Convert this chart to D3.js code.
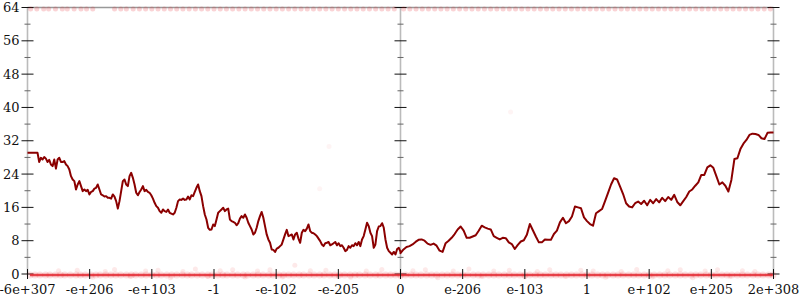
<!DOCTYPE html>
<html>
<head>
<meta charset="utf-8">
<script src="https://cdn.jsdelivr.net/npm/d3@7"></script>
<style>
  body { margin: 0; background: #fff; }
  text { font-family: "DejaVu Serif", serif; }
</style>
</head>
<body>
<svg id="chart" width="800" height="300"></svg>
<script>
// x positions are in "float order" units: -6 .. 0 .. 6, one unit per tick
var xTickPos = [-6, -5, -4, -3, -2, -1, 0, 1, 2, 3, 4, 5, 6];
var xTickLabels = ['-6e+307', '-e+206', '-e+103', '-1', '-e-102', '-e-205', '0',
                   'e-206', 'e-103', '1', 'e+102', 'e+205', '2e+308'];
var yMajor = [0, 8, 16, 24, 32, 40, 48, 56, 64];
var yMinor = [4, 12, 20, 28, 36, 44, 52, 60];

// random walk, negative half (evenly spaced from -6 to 0)
var leftWalk = [
  29.1, 29.1, 29.1, 29.1, 29.1, 29.1, 29.1, 26.9, 27.9, 27.5, 28.1, 27.7, 26.9, 27.4, 26.3, 25.9,
  27.5, 25.3, 27.5, 27.9, 26.9, 26.9, 27.1, 26.3, 25.9, 25.1, 23.5, 22.7, 22.3, 20.3, 21.5, 22.3,
  21.1, 19.9, 20.3, 19.9, 20.2, 19.1, 19.7, 19.9, 20.5, 20.7, 21.5, 20.3, 19.1, 18.9, 18.6, 18.7,
  18.3, 18.3, 18.1, 19.1, 18.6, 17.5, 15.7, 17.5, 19.9, 22.3, 22.7, 21.5, 21.1, 23.5, 24.3, 23.1,
  21.5, 19.5, 18.9, 19.7, 20.3, 21.1, 19.9, 20.2, 19.7, 19.5, 18.9, 18.1, 17.1, 16.3, 15.9, 15.1,
  14.7, 15.5, 15.1, 14.9, 15.5, 14.7, 14.5, 14.3, 14.7, 15.9, 17.5, 17.9, 17.8, 18.1, 17.8, 17.9,
  18.6, 17.9, 18.9, 18.7, 19.7, 20.7, 21.5, 19.9, 18.7, 16.3, 14.3, 13.1, 11.1, 10.6, 10.7, 11.9,
  11.5, 13.1, 14.7, 15.1, 15.5, 15.9, 15.1, 15.5, 15.7, 13.1, 12.7, 12.5, 12.3, 11.7, 12.2, 13.3,
  13.9, 13.5, 14.3, 13.5, 12.3, 11.5, 10.7, 9.5, 9.9, 11.1, 12.7, 13.9, 14.9, 13.5, 11.5, 9.5,
  8.3, 7.5, 5.9, 5.8, 5.3, 6.1, 6.3, 6.7, 7.1, 8.3, 9.5, 10.6, 9.1, 9.3, 9.5, 8.3,
  9.5, 9.9, 8.5, 7.5, 9.9, 10.6, 10.3, 10.9, 11.9, 10.3, 9.9, 9.8, 9.5, 9.1, 8.5, 7.9,
  7.1, 6.7, 7.4, 7.5, 7.7, 6.9, 7.1, 7.4, 7.7, 6.9, 7.4, 6.7, 6.9, 6.3, 5.5, 5.8,
  6.7, 6.3, 6.9, 6.7, 7.4, 6.9, 7.7, 6.7, 8.3, 9.1, 10.7, 12.3, 11.5, 9.9, 9.1, 6.3,
  7.1, 10.3, 11.4, 11.5, 12.2, 11.1, 8.3, 6.3, 5.5, 5.1, 4.7, 5.3, 4.7, 6.0, 6.3, 5.3
];

// random walk, positive half (evenly spaced from 0 to 6)
var rightWalk = [
  5.0, 5.9, 6.5, 6.7, 7.1, 7.7, 8.2, 8.3, 8.0, 7.3, 7.0, 7.3, 6.8, 5.6, 5.3, 7.4,
  8.0, 8.7, 9.6, 10.7, 11.4, 10.4, 8.7, 8.7, 9.0, 9.3, 10.4, 11.6, 11.2, 10.9, 10.7, 9.1,
  8.7, 8.3, 8.7, 8.6, 7.6, 7.2, 6.0, 7.0, 7.8, 8.1, 9.4, 12.0, 10.5, 9.0, 7.6, 7.6,
  8.3, 8.2, 8.2, 9.6, 10.4, 12.4, 13.5, 12.2, 12.7, 13.8, 16.2, 16.0, 15.8, 13.6, 12.7, 12.0,
  11.6, 14.6, 15.1, 15.6, 17.5, 19.5, 21.5, 23.0, 22.7, 21.0, 19.2, 17.0, 16.2, 16.0, 17.0, 17.4,
  16.8, 17.6, 16.5, 17.8, 17.0, 18.0, 17.2, 18.3, 17.5, 18.5, 17.8, 19.0, 17.3, 16.5, 17.5, 18.5,
  19.8, 20.3, 21.2, 22.0, 23.8, 23.8, 25.6, 26.1, 25.5, 23.5, 21.5, 22.0, 21.2, 19.8, 22.6, 27.6,
  27.8, 30.0, 31.3, 32.2, 33.4, 33.7, 33.6, 33.4, 32.6, 32.4, 33.9, 34.0, 34.0
];

// points pinned to the bottom (value 0) and top (value 64) of the chart
var bottomDots = [
  -5.96, -5.88, -5.8, -5.71, -5.64, -5.55, -5.47, -5.4, -5.31, -5.22, -5.15, -5.07, -4.98, -4.9,
  -4.83, -4.74, -4.66, -4.58, -4.5, -4.41, -4.33, -4.26, -4.17, -4.09, -4.0, -3.92, -3.85, -3.76,
  -3.68, -3.6, -3.51, -3.43, -3.36, -3.27, -3.19, -3.1, -3.03, -2.94, -2.86, -2.79, -2.7, -2.62,
  -2.53, -2.46, -2.37, -2.29, -2.21, -2.12, -2.05, -1.96, -1.88, -1.8, -1.72, -1.63, -1.56, -1.47,
  -1.39, -1.3, -1.23, -1.14, -1.06, -0.98, -0.9, -0.81, -0.73, -0.66, -0.57, -0.49, -0.4, -0.33,
  -0.24, -0.16, -0.08, 0.0, 0.08, 0.17, 0.25, 0.33, 0.42, 0.5, 0.58, 0.67, 0.75, 0.83, 0.92,
  1.0, 1.08, 1.17, 1.25, 1.33, 1.42, 1.5, 1.58, 1.67, 1.75, 1.83, 1.92, 2.0, 2.08, 2.17, 2.25,
  2.33, 2.42, 2.5, 2.58, 2.67, 2.75, 2.83, 2.92, 3.0, 3.08, 3.17, 3.25, 3.33, 3.42, 3.5, 3.58,
  3.67, 3.75, 3.83, 3.92, 4.0, 4.08, 4.17, 4.25, 4.33, 4.42, 4.5, 4.58, 4.67, 4.75, 4.83, 4.92,
  5.0, 5.08, 5.17, 5.25, 5.33, 5.42, 5.5, 5.58, 5.67, 5.75, 5.83, 5.92, 5.99
];
var bottomSpread = [
  [-5.5, 0.8], [-5.2, 0.9], [-4.95, -0.8], [-4.75, 0.6], [-4.6, 1.1], [-4.35, -0.6], [-4.1, 0.7],
  [-3.9, 0.9], [-3.7, -0.9], [-3.5, 0.6], [-3.3, 1.2], [-3.1, -0.6], [-2.9, 0.8], [-2.7, 1.0],
  [-2.5, -0.7], [-2.3, 0.7], [-2.1, 1.0], [-1.9, -0.7], [-1.7, 2.1], [-1.45, 0.8], [-1.2, 0.9],
  [-1.0, -0.6], [-0.8, -0.8], [-0.55, 0.7], [-0.3, 1.1], [0.0, -0.7], [0.2, 0.8], [0.4, 1.0],
  [0.6, -0.9], [0.85, 0.7], [1.1, 1.2], [1.3, -0.6], [1.5, 0.7], [1.75, 0.9], [2.0, -0.7],
  [2.2, 0.6], [2.4, 1.0], [2.65, -0.6], [2.9, 0.9], [3.1, 0.7], [3.3, -0.8], [3.55, 0.6],
  [3.8, 1.1], [4.05, -0.7], [4.3, 0.8], [4.5, 1.0], [4.7, -0.9], [4.9, 0.7], [5.1, 1.0],
  [5.3, -0.6], [5.5, 0.8], [5.7, 0.6]
];
var topDots = [
  -5.95, -5.85, -5.74, -5.66, -5.55, -5.44, -5.36, -5.25, -5.14, -5.05, -4.95, -4.6, -4.5, -4.41,
  -4.3, -4.2, -4.1, -4.0, -3.9, -3.8, -3.7, -3.6, -3.5, -3.4, -3.3, -3.2, -3.1, -3.0, -2.9,
  -2.8, -2.7, -2.6, -2.5, -2.4, -2.3, -2.2, -2.1, -2.0, -1.9, -1.8, -1.7, -1.6, -1.5, -1.4,
  -1.3, -1.2, -1.1, -1.0, -0.9, -0.8, -0.7, -0.6, -0.5, -0.4, -0.3, -0.2, -0.1, 0.05, 0.15,
  0.25, 0.35, 0.45, 0.55, 0.65, 0.75, 0.85, 0.95, 1.05, 1.15, 1.25, 1.35, 1.45, 1.55, 1.65,
  1.75, 1.85, 1.95, 2.05, 2.15, 2.25, 2.35, 2.45, 2.55, 2.65, 2.75, 2.85, 2.95, 3.05, 3.15,
  3.25, 3.35, 3.45, 3.55, 3.65, 3.75, 3.85, 3.95, 4.05, 4.15, 4.25, 4.35, 4.45, 4.55, 4.65,
  4.75, 4.85, 4.95, 5.05, 5.15, 5.25, 5.35, 5.45, 5.55, 5.65, 5.75, 5.85, 5.95
];
var strayDots = [[-1.15, 30.6], [1.77, 38.9], [-1.3, 20.5]];

var svg = d3.select('#chart');

var x = d3.scaleLinear().domain([-6, 6]).range([27.5, 773.5]);
var y = d3.scaleLinear().domain([0, 64]).range([274, 7.5]);

var leftIdx = d3.scaleLinear().domain([0, leftWalk.length - 1]).range([-6, 0]);
var rightIdx = d3.scaleLinear().domain([0, rightWalk.length - 1]).range([0, 6]);
var walk = leftWalk.map(function(v, i) { return [leftIdx(i), v]; })
  .concat(rightWalk.map(function(v, i) { return [rightIdx(i), v]; }));

// top border line
svg.append('line')
  .attr('x1', x(-6)).attr('x2', x(6))
  .attr('y1', y(64)).attr('y2', y(64))
  .attr('stroke', '#999').attr('stroke-width', 1.5);

// vertical axes: left (with labels), middle and right
function vAxis(pos, labels) {
  var g = svg.append('g').attr('transform', 'translate(' + x(pos) + ',0)');
  g.append('line')
    .attr('y1', y(64)).attr('y2', y(0))
    .attr('stroke', '#bbb').attr('stroke-width', 1.6);
  g.selectAll('.minor').data(yMinor).enter().append('line')
    .attr('class', 'minor')
    .attr('x1', -3).attr('x2', 3)
    .attr('y1', function(d) { return y(d); }).attr('y2', function(d) { return y(d); })
    .attr('stroke', '#666').attr('stroke-width', 1);
  g.selectAll('.major').data(yMajor).enter().append('line')
    .attr('class', 'major')
    .attr('x1', -6).attr('x2', 6)
    .attr('y1', function(d) { return y(d); }).attr('y2', function(d) { return y(d); })
    .attr('stroke', '#111').attr('stroke-width', 1);
  if (labels) {
    g.selectAll('text').data(yMajor).enter().append('text')
      .attr('x', -8)
      .attr('y', function(d) { return y(d); })
      .attr('dy', '0.35em')
      .attr('text-anchor', 'end')
      .attr('font-size', 13)
      .attr('fill', '#111')
      .text(function(d) { return d; });
  }
}
vAxis(-6, true);
vAxis(0, false);
vAxis(6, false);

// dots at bottom and top (many overlapping points read as a band)
var dots = svg.append('g').attr('fill', '#e8242c');
dots.selectAll('.s').data(bottomSpread).enter().append('circle')
  .attr('class', 's')
  .attr('cx', function(d) { return x(d[0]); })
  .attr('cy', function(d) { return y(d[1]); })
  .attr('r', 2.5)
  .attr('opacity', 0.1);
dots.selectAll('.b').data(bottomDots).enter().append('circle')
  .attr('class', 'b')
  .attr('cx', function(d) { return x(d); })
  .attr('cy', y(0) + 1)
  .attr('r', 3.5)
  .attr('opacity', 0.15);
svg.append('path')
  .datum(bottomDots)
  .attr('d', d3.line()
    .x(function(d) { return x(d); })
    .y(function() { return y(0) + 1; }))
  .attr('fill', 'none')
  .attr('stroke', '#e3262e')
  .attr('stroke-opacity', 0.85)
  .attr('stroke-width', 2.5);
dots.selectAll('.t').data(topDots).enter().append('circle')
  .attr('class', 't')
  .attr('cx', function(d) { return x(d); })
  .attr('cy', y(64) + 1.5)
  .attr('r', 2.5)
  .attr('opacity', 0.2);
dots.selectAll('.o').data(strayDots).enter().append('circle')
  .attr('class', 'o')
  .attr('cx', function(d) { return x(d[0]); })
  .attr('cy', function(d) { return y(d[1]); })
  .attr('r', 2.5)
  .attr('opacity', 0.05);

// bottom axis ticks and labels
var xa = svg.append('g').attr('transform', 'translate(0,' + y(0) + ')');
xa.selectAll('line').data(xTickPos).enter().append('line')
  .attr('x1', function(d) { return x(d); }).attr('x2', function(d) { return x(d); })
  .attr('y1', -5).attr('y2', 5)
  .attr('stroke', '#111').attr('stroke-width', 1);
xa.selectAll('text').data(xTickPos).enter().append('text')
  .attr('x', function(d) { return x(d); })
  .attr('y', 11)
  .attr('dy', '0.71em')
  .attr('text-anchor', 'middle')
  .attr('font-size', 13)
  .attr('fill', '#111')
  .text(function(d, i) { return xTickLabels[i]; });

// the walk
var line = d3.line()
  .x(function(d) { return x(d[0]); })
  .y(function(d) { return y(d[1]); });
svg.append('path')
  .datum(walk)
  .attr('d', line)
  .attr('fill', 'none')
  .attr('stroke', '#8b0000')
  .attr('stroke-width', 2)
  .attr('stroke-linejoin', 'round');
</script>
</body>
</html>
